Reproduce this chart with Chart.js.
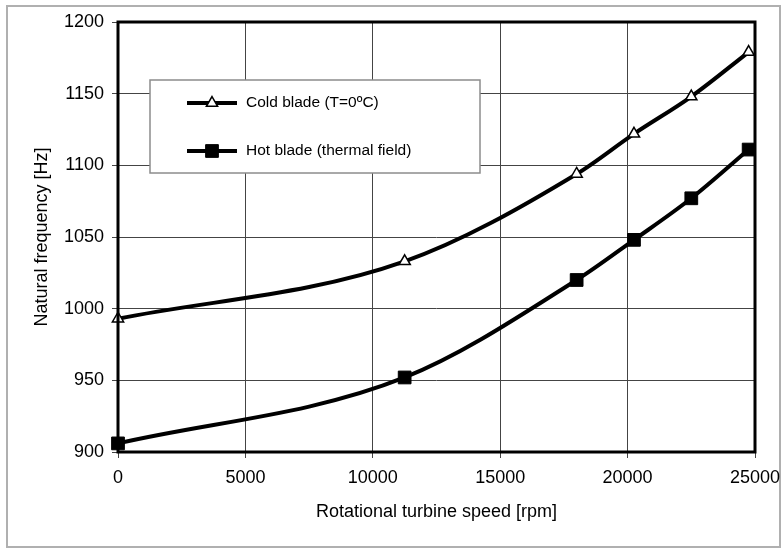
<!DOCTYPE html>
<html>
<head>
<meta charset="utf-8">
<script src="https://cdn.jsdelivr.net/npm/chart.js@4/dist/chart.umd.min.js"></script>
<style>
  html, body { margin: 0; padding: 0; background: #fff; }
  #wrap { position: relative; width: 782px; height: 549px; }
</style>
</head>
<body>
<div id="wrap"><canvas id="speedChart"></canvas></div>
<script>
'use strict';

const speeds = [0, 11250, 18000, 20250, 22500, 24750];
const coldBlade = [993, 1033, 1094, 1122, 1148, 1179];
const hotBlade = [906, 952, 1020, 1048, 1077, 1111];
const seriesLabels = ['Cold blade (T=0ºC)', 'Hot blade (thermal field)'];

const FONT = '"Liberation Sans", Arial, sans-serif';

function toPoints(values) {
  return speeds.map((x, i) => ({ x, y: values[i] }));
}

// frame, plot border and the boxed legend inside the plot
const decorations = {
  id: 'decorations',
  beforeDraw(chart) {
    const ctx = chart.ctx;
    ctx.save();
    ctx.strokeStyle = '#b0b0b0';
    ctx.lineWidth = 2;
    ctx.strokeRect(7, 6, 773, 541);
    ctx.restore();
  },
  afterDatasetsDraw(chart) {
    const ctx = chart.ctx;
    const area = chart.chartArea;
    ctx.save();
    ctx.strokeStyle = '#000';
    ctx.lineWidth = 3;
    ctx.strokeRect(area.left, area.top, area.right - area.left, area.bottom - area.top);

    const box = { x: 150, y: 80, w: 330, h: 93 };
    ctx.fillStyle = '#fff';
    ctx.fillRect(box.x, box.y, box.w, box.h);
    ctx.strokeStyle = '#8c8c8c';
    ctx.lineWidth = 1.5;
    ctx.strokeRect(box.x, box.y, box.w, box.h);

    const rows = [103, 151];
    chart.data.datasets.forEach((ds, i) => {
      const y = rows[i];
      ctx.strokeStyle = '#000';
      ctx.lineWidth = 4;
      ctx.beginPath();
      ctx.moveTo(187, y);
      ctx.lineTo(237, y);
      ctx.stroke();
      ctx.fillStyle = ds.pointBackgroundColor;
      ctx.strokeStyle = '#000';
      ctx.lineWidth = ds.pointBorderWidth;
      Chart.helpers.drawPoint(ctx, {
        pointStyle: ds.pointStyle,
        radius: ds.pointRadius,
        borderWidth: ds.pointBorderWidth,
      }, 212, y);
      ctx.fillStyle = '#000';
      ctx.font = '15.5px ' + FONT;
      ctx.textBaseline = 'middle';
      ctx.fillText(ds.label, 246, y);
    });
    ctx.restore();
  },
};

new Chart(document.getElementById('speedChart'), {
  type: 'line',
  data: {
    datasets: [
      {
        label: seriesLabels[0],
        data: toPoints(coldBlade),
        borderColor: '#000',
        borderWidth: 4,
        tension: 0.4,
        cubicInterpolationMode: 'monotone',
        pointStyle: 'triangle',
        pointRadius: 6.5,
        pointBorderWidth: 1.5,
        pointBackgroundColor: '#fff',
        pointBorderColor: '#000',
        clip: false,
      },
      {
        label: seriesLabels[1],
        data: toPoints(hotBlade),
        borderColor: '#000',
        borderWidth: 4,
        tension: 0.4,
        cubicInterpolationMode: 'monotone',
        pointStyle: 'rect',
        pointRadius: 9,
        pointBorderWidth: 1,
        pointBackgroundColor: '#000',
        pointBorderColor: '#000',
        clip: false,
      },
    ],
  },
  options: {
    responsive: true,
    maintainAspectRatio: false,
    animation: false,
    layout: { padding: { top: 22, right: 27, bottom: 0, left: 0 } },
    plugins: {
      legend: { display: false },
      tooltip: { enabled: false },
    },
    scales: {
      x: {
        type: 'linear',
        min: 0,
        max: 25000,
        ticks: {
          stepSize: 5000,
          color: '#000',
          padding: 9,
          maxRotation: 0,
          font: { family: FONT, size: 18 },
          callback: (value) => String(value),
        },
        grid: { color: '#444', lineWidth: 1, tickLength: 6 },
        border: { display: false },
        title: {
          display: true,
          text: 'Rotational turbine speed [rpm]',
          color: '#000',
          font: { family: FONT, size: 18 },
          padding: { top: 0, bottom: 26 },
        },
        afterFit: (scale) => {
          scale.height = 97;
          scale.paddingLeft = 0;
          scale.paddingRight = 0;
        },
      },
      y: {
        min: 900,
        max: 1200,
        ticks: {
          stepSize: 50,
          color: '#000',
          padding: 8,
          font: { family: FONT, size: 18 },
          callback: (value) => String(value),
        },
        grid: { color: '#444', lineWidth: 1, tickLength: 6 },
        border: { display: false },
        title: {
          display: true,
          text: 'Natural frequency [Hz]',
          color: '#000',
          font: { family: FONT, size: 18 },
          padding: { top: 31, bottom: 0 },
        },
        afterFit: (scale) => {
          scale.width = 118;
          scale.paddingTop = 0;
          scale.paddingBottom = 0;
        },
      },
    },
  },
  plugins: [decorations],
});
</script>
</body>
</html>
